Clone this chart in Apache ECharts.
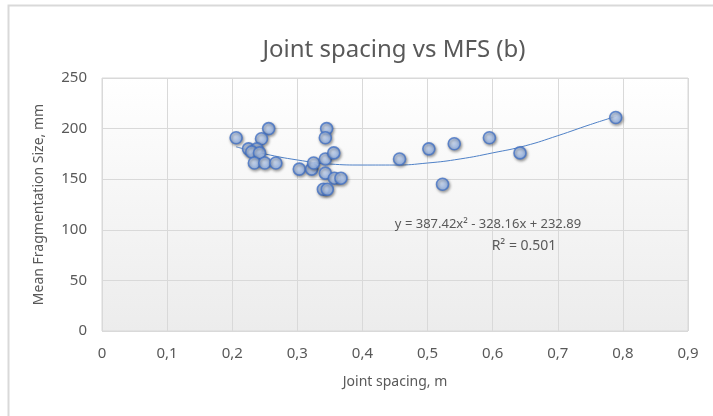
<!DOCTYPE html>
<html>
<head>
<meta charset="utf-8">
<script src="https://cdn.jsdelivr.net/npm/echarts@6/dist/echarts.min.js"></script>
<style>html,body{margin:0;padding:0;background:#fff;}#c{width:713px;height:416px;}</style>
</head>
<body>
<div id="c"></div>
<script>
var jointSpacing = [0.206,0.256,0.245,0.225,0.238,0.230,0.242,0.234,0.250,0.267,0.303,0.322,0.325,0.343,0.356,0.345,0.343,0.343,0.357,0.367,0.340,0.346,0.457,0.502,0.541,0.595,0.642,0.523,0.789];
var mfs = [191,200,190,180,180,177,176,166,166,166,160,160,166,170,176,200,191,156,151,151,140,140,170,180,185,191,176,145,211];
var trendX = [0.206,0.25,0.3,0.35,0.4,0.45,0.5,0.55,0.6,0.65,0.7,0.75,0.789];
var trendY = [182,175,169,165,164,164,166,170,176,183,193,204,212];
var xTicks = ['0','0,1','0,2','0,3','0,4','0,5','0,6','0,7','0,8','0,9'];
var equationText = 'y = 387.42x\u00b2 - 328.16x + 232.89';
var r2Text = 'R\u00b2 = 0.501';

var points = jointSpacing.map(function(x,i){return [x, mfs[i]];});
var trend = trendX.map(function(x,i){return [x, trendY[i]];});

var font = 'Noto Sans';
var chart = echarts.init(document.getElementById('c'));
chart.setOption({
  animation:false,
  backgroundColor:'#fff',
  title:{text:'Joint spacing vs MFS (b)',left:389,textAlign:'center',top:33,
    textStyle:{fontFamily:font,fontSize:24,fontWeight:'normal',color:'#595959'}},
  grid:{left:102,right:25,top:78,bottom:85,show:true,borderColor:'#d9d9d9',borderWidth:1,
    backgroundColor:new echarts.graphic.LinearGradient(0,0,0,1,[{offset:0,color:'#ffffff'},{offset:1,color:'#ececec'}])},
  xAxis:{type:'value',min:0,max:0.9,interval:0.1,
    name:'Joint spacing, m',nameLocation:'middle',nameGap:44,
    nameTextStyle:{fontFamily:font,fontSize:14,color:'#595959'},
    axisLine:{show:false},axisTick:{show:false},
    axisLabel:{margin:15,fontFamily:font,fontSize:15,color:'#595959',
      formatter:function(v){return xTicks[Math.round(v*10)];}},
    splitLine:{show:true,lineStyle:{color:'#d9d9d9',width:1}}},
  yAxis:{type:'value',min:0,max:250,interval:50,
    name:'Mean Fragmentation Size, mm',nameLocation:'middle',nameGap:56,nameRotate:90,
    nameTextStyle:{fontFamily:font,fontSize:14,color:'#595959'},
    axisLine:{show:false},axisTick:{show:false},
    axisLabel:{margin:15,fontFamily:font,fontSize:15,color:'#595959'},
    splitLine:{show:true,lineStyle:{color:'#d9d9d9',width:1}}},
  graphic:[
    {type:'rect',left:6,top:3,shape:{width:720,height:430},z:-10,silent:true,
      style:{fill:'none',stroke:'#d9d9d9',lineWidth:2}},
    {type:'text',x:488,y:224,style:{text:equationText,align:'center',verticalAlign:'middle',
      font:'13px "Noto Sans"',fill:'#595959'},z:10},
    {type:'text',x:524,y:246,style:{text:r2Text,align:'center',verticalAlign:'middle',
      font:'14px "Noto Sans"',fill:'#595959'},z:10}
  ],
  series:[
    {type:'line',data:trend,showSymbol:false,smooth:0.5,z:1,
      lineStyle:{color:'#4f81c7',width:1}},
    {type:'scatter',data:points,symbolSize:12,z:5,
      itemStyle:{color:new echarts.graphic.RadialGradient(0.4,0.4,0.6,[{offset:0,color:'#d3e2fb'},{offset:1,color:'#8eb1ea'}]),
        borderColor:'#4472c4',borderWidth:1.6,shadowBlur:3,shadowColor:'rgba(0,0,0,0.45)',shadowOffsetX:1,shadowOffsetY:1.5}}
  ]
});
</script>
</body>
</html>
